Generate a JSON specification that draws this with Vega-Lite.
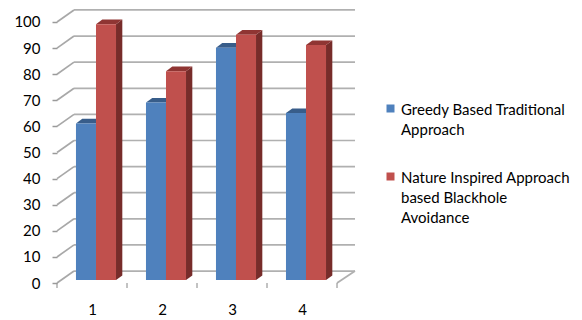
{
  "$schema": "https://vega.github.io/schema/vega-lite/v6.json",
  "width": 298,
  "height": 283,
  "autosize": "none",
  "padding": {"left": 57, "top": 5, "right": 227, "bottom": 32},
  "background": "white",
  "config": {"view": {"stroke": null}, "font": "Lato", "axisY": {"tickCount": 11, "labelOverlap": false}},
  "datasets": {
    "bars": [
      {"category": 1, "series": "Greedy Based Traditional Approach", "value": 60},
      {"category": 2, "series": "Greedy Based Traditional Approach", "value": 68},
      {"category": 3, "series": "Greedy Based Traditional Approach", "value": 89},
      {"category": 4, "series": "Greedy Based Traditional Approach", "value": 64},
      {"category": 1, "series": "Nature Inspired Approach based Blackhole Avoidance", "value": 98},
      {"category": 2, "series": "Nature Inspired Approach based Blackhole Avoidance", "value": 80},
      {"category": 3, "series": "Nature Inspired Approach based Blackhole Avoidance", "value": 94},
      {"category": 4, "series": "Nature Inspired Approach based Blackhole Avoidance", "value": 90}
    ],
    "levels": [
      {"level": 0}, {"level": 10}, {"level": 20}, {"level": 30}, {"level": 40}, {"level": 50},
      {"level": 60}, {"level": 70}, {"level": 80}, {"level": 90}, {"level": 100}
    ],
    "dividers": [{"pos": 0}, {"pos": 1}, {"pos": 2}, {"pos": 3}, {"pos": 4}]
  },
  "layer": [
    {
      "description": "Back wall gridlines",
      "data": {"name": "levels"},
      "transform": [{"calculate": "datum.level + 4.6", "as": "backLevel"}],
      "mark": {"type": "rule", "stroke": "#b0b0b0", "strokeWidth": 1.7},
      "encoding": {
        "x": {"datum": 0.243, "type": "quantitative", "scale": {"domain": [0, 4.257], "nice": false, "zero": false}, "axis": {"values": [0.5, 1.5, 2.5, 3.5], "labelExpr": "ceil(datum.value)", "domain": false, "ticks": false, "grid": false, "title": null, "labelFontSize": 15, "labelColor": "#000000", "labelPadding": 14, "labelAngle": 0}},
        "x2": {"datum": 4.257},
        "y": {"field": "backLevel", "type": "quantitative", "scale": {"domain": [-1.9, 106.5], "nice": false, "zero": false}, "axis": {"values": [0, 10, 20, 30, 40, 50, 60, 70, 80, 90, 100], "labelOverlap": false, "domain": false, "grid": false, "title": null, "tickColor": "#9a9a9a", "tickWidth": 1.5, "tickSize": 5, "labelPadding": 12, "labelFontSize": 15, "labelColor": "#000000"}}
      }
    },
    {
      "description": "Side wall slants from the value axis to the back wall",
      "data": {"name": "levels"},
      "transform": [
        {"calculate": "datum.level + 4.6", "as": "backLevel"}
      ],
      "mark": {"type": "rule", "stroke": "#a8a8a8", "strokeWidth": 1.7},
      "encoding": {
        "x": {"datum": 0, "type": "quantitative"},
        "x2": {"datum": 0.243},
        "y": {"field": "level", "type": "quantitative"},
        "y2": {"field": "backLevel"}
      }
    },
    {
      "description": "Floor edge on the right",
      "mark": {"type": "rule", "stroke": "#b0b0b0", "strokeWidth": 1.7},
      "data": {"values": [{"from": 0, "to": 4.6}]},
      "encoding": {
        "x": {"datum": 4, "type": "quantitative"},
        "x2": {"datum": 4.257},
        "y": {"field": "from", "type": "quantitative"},
        "y2": {"field": "to"}
      }
    },
    {
      "description": "Value axis and category axis lines",
      "mark": {"type": "rule", "stroke": "#9a9a9a", "strokeWidth": 1.7},
      "encoding": {
        "x": {"datum": 0, "type": "quantitative"},
        "y": {"datum": 0, "type": "quantitative"},
        "y2": {"datum": 100}
      }
    },
    {
      "mark": {"type": "rule", "stroke": "#9a9a9a", "strokeWidth": 1.7},
      "encoding": {
        "x": {"datum": 0, "type": "quantitative"},
        "x2": {"datum": 4},
        "y": {"datum": 0, "type": "quantitative"}
      }
    },
    {
      "description": "Tick marks between categories",
      "data": {"name": "dividers"},
      "mark": {"type": "rule", "stroke": "#9a9a9a", "strokeWidth": 1.2},
      "encoding": {
        "x": {"field": "pos", "type": "quantitative"},
        "y": {"datum": -1.9, "type": "quantitative"},
        "y2": {"datum": 0}
      }
    },
    {
      "description": "Bar tops and right sides, built as two-point parallelograms",
      "data": {"name": "bars"},
      "transform": [
        {"calculate": "datum.category - 1 + (datum.series[0] == 'G' ? 0.271 : 0.557)", "as": "left"},
        {"calculate": "datum.left + 0.286", "as": "right"},
        {"calculate": "[0, 1]", "as": "t"},
        {"flatten": ["t"]},
        {"calculate": "datum.right + datum.t * 0.09", "as": "sideX"},
        {"calculate": "datum.t * 1.75 + 1.15", "as": "sideBase"},
        {"calculate": "datum.value + datum.t * 1.75 + 1.15", "as": "sideTop"},
        {"calculate": "datum.left + datum.t * 0.09", "as": "topL"},
        {"calculate": "datum.right + datum.t * 0.09", "as": "topR"}
      ],
      "layer": [
        {
          "mark": {"type": "area", "orient": "vertical"},
          "encoding": {
            "x": {"field": "sideX", "type": "quantitative"},
            "y": {"field": "sideTop", "type": "quantitative"},
            "y2": {"field": "sideBase"},
            "detail": [{"field": "category"}, {"field": "series"}],
            "color": {"condition": {"test": "datum.series[0] == 'G'", "value": "#2c4d75"}, "value": "#772c2a"}
          }
        },
        {
          "mark": {"type": "area", "orient": "horizontal"},
          "encoding": {
            "y": {"field": "sideTop", "type": "quantitative"},
            "x": {"field": "topL", "type": "quantitative"},
            "x2": {"field": "topR"},
            "detail": [{"field": "category"}, {"field": "series"}],
            "color": {"condition": {"test": "datum.series[0] == 'G'", "value": "#385d8a"}, "value": "#8f3533"}
          }
        }
      ]
    },
    {
      "description": "Front faces of the bars",
      "data": {"name": "bars"},
      "transform": [
        {"calculate": "datum.category - 1 + (datum.series[0] == 'G' ? 0.271 : 0.557)", "as": "left"},
        {"calculate": "datum.left + 0.286", "as": "right"}
      ],
      "mark": {"type": "rect", "yOffset": -3, "y2Offset": -3},
      "encoding": {
        "x": {"field": "left", "type": "quantitative"},
        "x2": {"field": "right"},
        "y": {"field": "value", "type": "quantitative"},
        "y2": {"datum": 0},
        "color": {
          "field": "series",
          "type": "nominal",
          "scale": {"domain": ["Greedy Based Traditional Approach", "Nature Inspired Approach based Blackhole Avoidance"], "range": ["#4f81bd", "#c0504d"]},
          "legend": {
            "orient": "none",
            "legendX": 326,
            "legendY": 96,
            "title": null,
            "symbolType": "square",
            "symbolSize": 64,
            "symbolStrokeWidth": 0,
            "labelFontSize": 15,
            "labelColor": "#000000",
            "labelLimit": 300,
            "labelBaseline": "top",
            "labelOffset": 3,
            "rowPadding": 31,
            "labelExpr": "datum.label[0] == 'G' ? ['Greedy Based Traditional', 'Approach'] : ['Nature Inspired Approach', 'based Blackhole', 'Avoidance']",
            "encoding": {"labels": {"lineHeight": {"value": 20}, "dy": {"value": -6}}}
          }
        }
      }
    }
  ]
}
